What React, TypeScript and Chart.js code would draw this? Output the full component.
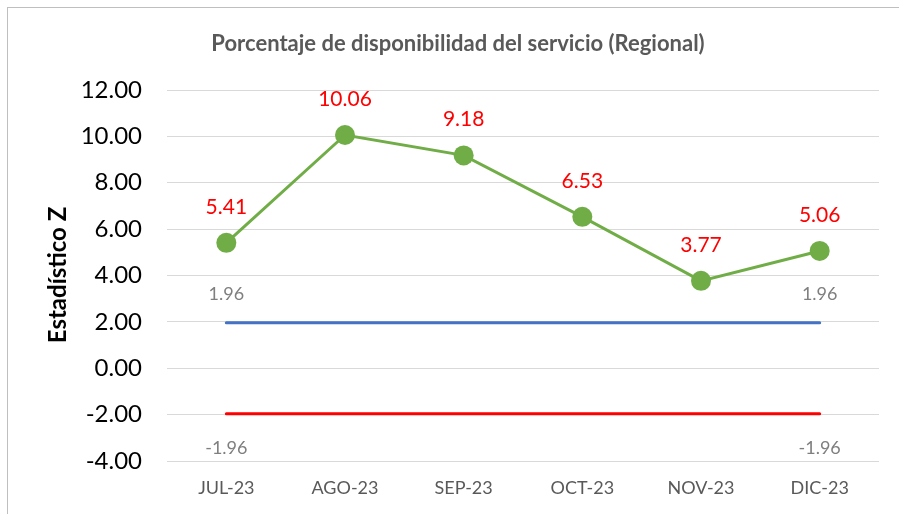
import React, { useEffect, useRef } from "react";
import { Chart, registerables } from "chart.js";

Chart.register(...registerables);

const categories = ["JUL-23", "AGO-23", "SEP-23", "OCT-23", "NOV-23", "DIC-23"];
const zValues = [5.41, 10.06, 9.18, 6.53, 3.77, 5.06];
const upperLimit = [1.96, 1.96, 1.96, 1.96, 1.96, 1.96];
const lowerLimit = [-1.96, -1.96, -1.96, -1.96, -1.96, -1.96];
const titleText = "Porcentaje de disponibilidad del servicio (Regional)";
const yTitleText = "Estadístico Z";

const FONT = "Lato, 'Open Sans', sans-serif";

const labelPlugin = {
  id: "customLabels",
  afterDatasetsDraw(chart: any) {
    const ctx = chart.ctx;
    ctx.save();
    // title
    ctx.fillStyle = "#595959";
    ctx.font = `bold 22px ${FONT}`;
    ctx.textAlign = "center";
    ctx.textBaseline = "middle";
    ctx.fillText(titleText, 458, 44);
    // y title
    ctx.save();
    ctx.translate(58, 275);
    ctx.rotate(-Math.PI / 2);
    ctx.fillStyle = "#000000";
    ctx.font = `bold 24px ${FONT}`;
    ctx.fillText(yTitleText, 0, 0);
    ctx.restore();

    // Z value labels
    const m0 = chart.getDatasetMeta(0);
    ctx.fillStyle = "#ff0000";
    ctx.font = `21px ${FONT}`;
    m0.data.forEach((pt: any, i: number) => {
      ctx.fillText(zValues[i].toFixed(2), pt.x, pt.y - 36);
    });
    // limit labels (first and last)
    ctx.fillStyle = "#7f7f7f";
    ctx.font = `18px ${FONT}`;
    const m1 = chart.getDatasetMeta(1);
    const m2 = chart.getDatasetMeta(2);
    [0, upperLimit.length - 1].forEach((i) => {
      const p = m1.data[i];
      ctx.fillText(upperLimit[i].toFixed(2), p.x, p.y - 29);
      const q = m2.data[i];
      ctx.fillText(lowerLimit[i].toFixed(2), q.x, q.y + 34);
    });
    ctx.restore();
  },
};

export default function App() {
  const ref = useRef<HTMLCanvasElement>(null);
  useEffect(() => {
    if (!ref.current) return;
    const chart = new Chart(ref.current, {
      type: "line",
      data: {
        labels: categories,
        datasets: [
          {
            data: zValues,
            borderColor: "#70ad47",
            backgroundColor: "#70ad47",
            borderWidth: 3,
            pointRadius: 10,
            pointBackgroundColor: "#70ad47",
            pointBorderColor: "#70ad47",
            pointBorderWidth: 0,
          },
          {
            data: upperLimit,
            borderColor: "#4472c4",
            borderWidth: 3,
            pointRadius: 0,
            borderCapStyle: "round",
          },
          {
            data: lowerLimit,
            borderColor: "#ff0000",
            borderWidth: 3,
            pointRadius: 0,
            borderCapStyle: "round",
          },
        ],
      },
      options: {
        animation: false,
        responsive: false,
        maintainAspectRatio: false,
        layout: { padding: { top: 90, right: 20, left: 0, bottom: 0 } },
        plugins: {
          legend: { display: false },
          title: { display: false },
          tooltip: { enabled: false },
        },
        scales: {
          x: {
            offset: true,
            grid: { display: false, drawTicks: false },
            border: { display: false },
            ticks: {
              color: "#595959",
              font: { family: FONT, size: 18 },
              padding: 16,
              maxRotation: 0,
            },
            afterFit: (s: any) => {
              s.height = 53;
            },
          },
          y: {
            min: -4,
            max: 12,
            grid: { color: "#d9d9d9", lineWidth: 1, drawTicks: false },
            border: { display: false },
            ticks: {
              stepSize: 2,
              color: "#000000",
              font: { family: FONT, size: 24 },
              padding: 25,
              callback: (v: any) => Number(v).toFixed(2),
            },
            afterFit: (s: any) => {
              s.width = 167;
            },
          },
        },
      },
      plugins: [labelPlugin],
    });
    return () => chart.destroy();
  }, []);

  return (
    <div style={{ position: "fixed", left: 0, top: 0, width: 899, height: 514, background: "#fff", overflow: "hidden" }}>
      <div
        style={{
          position: "absolute",
          left: 7,
          top: 7,
          width: 900,
          height: 520,
          border: "1.5px solid #bfbfbf",
          boxSizing: "border-box",
        }}
      />
      <canvas ref={ref} width={899} height={514} style={{ position: "absolute", left: 0, top: 0 }} />
    </div>
  );
}
